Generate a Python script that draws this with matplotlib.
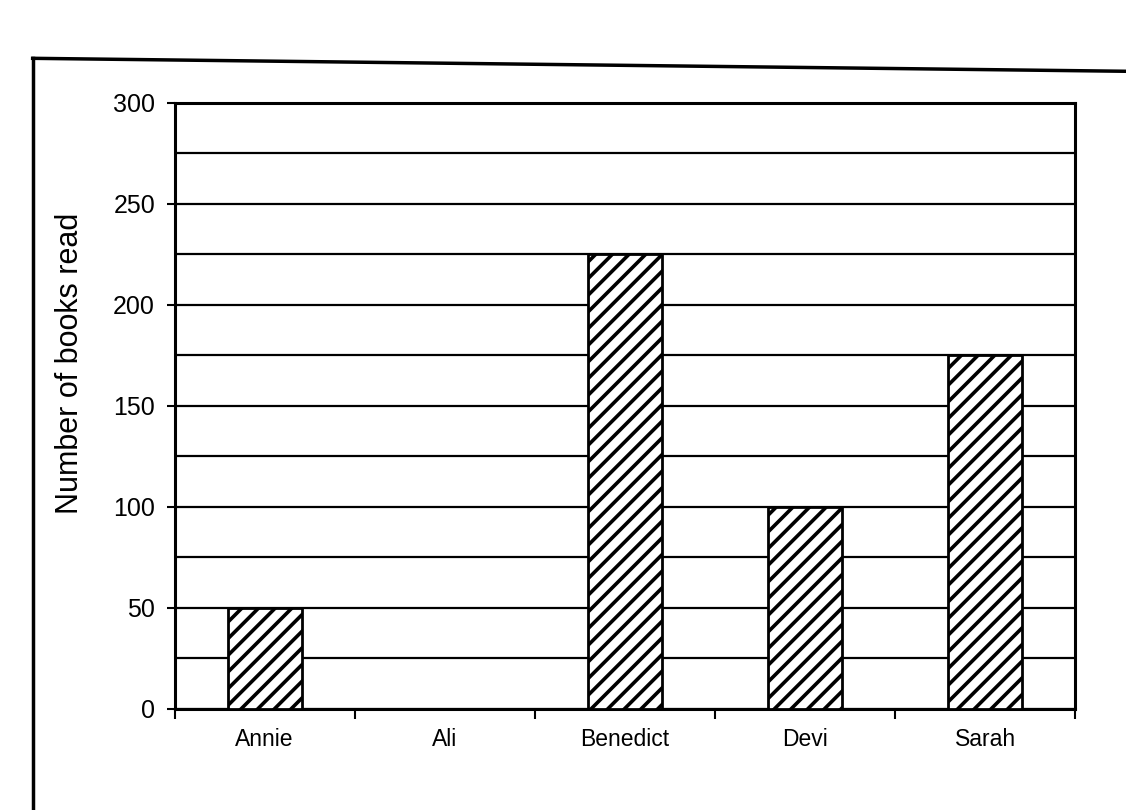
import matplotlib
matplotlib.use('Agg')
import matplotlib.pyplot as plt
from matplotlib.lines import Line2D
import numpy as np

# data
names = ['Annie', 'Ali', 'Benedict', 'Devi', 'Sarah']
books = [50, 0, 225, 100, 175]
y_ticks = [0, 50, 100, 150, 200, 250, 300]

plt.rcParams['font.family'] = ['Liberation Sans', 'DejaVu Sans']
plt.rcParams['hatch.linewidth'] = 2.6

fig = plt.figure(figsize=(11.26, 8.1), dpi=100)
ax = fig.add_axes([0.155, 0.125, 0.80, 0.748])

x = np.arange(len(names))
ax.bar(x, books, width=0.41, color='white', edgecolor='black',
       hatch='//', linewidth=2, zorder=3)

# horizontal grid every 25
ax.set_ylim(0, 300)
ax.set_yticks(y_ticks)
ax.set_yticks(np.arange(0, 301, 25), minor=True)
ax.yaxis.grid(True, which='both', color='black', linewidth=1.6, zorder=0)
ax.tick_params(axis='y', which='minor', length=0)
ax.tick_params(axis='y', which='major', direction='out', length=6, width=1.5,
               labelsize=18, pad=8)

# category ticks sit between the bars
ax.set_xlim(-0.5, len(names) - 0.5)
ax.set_xticks(np.arange(-0.5, len(names), 1.0))
ax.set_xticklabels([])
ax.set_xticks(x, minor=True)
ax.set_xticklabels(names, minor=True)
ax.tick_params(axis='x', which='major', direction='out', length=7, width=1.5)
ax.tick_params(axis='x', which='minor', length=0, pad=14, labelsize=16.5)

for s in ax.spines.values():
    s.set_linewidth(2.2)

ax.set_ylabel('Number of books read', fontsize=22)
ax.yaxis.set_label_coords(-0.099, 0.57)

# outer chart-area border (left and top visible in the scan)
fig.add_artist(Line2D([0.029, 0.029], [0.0, 0.928], color='black', linewidth=2.5))
fig.add_artist(Line2D([0.029, 1.0], [0.928, 0.912], color='black', linewidth=2.5))

fig.savefig('out.png', dpi=100)
